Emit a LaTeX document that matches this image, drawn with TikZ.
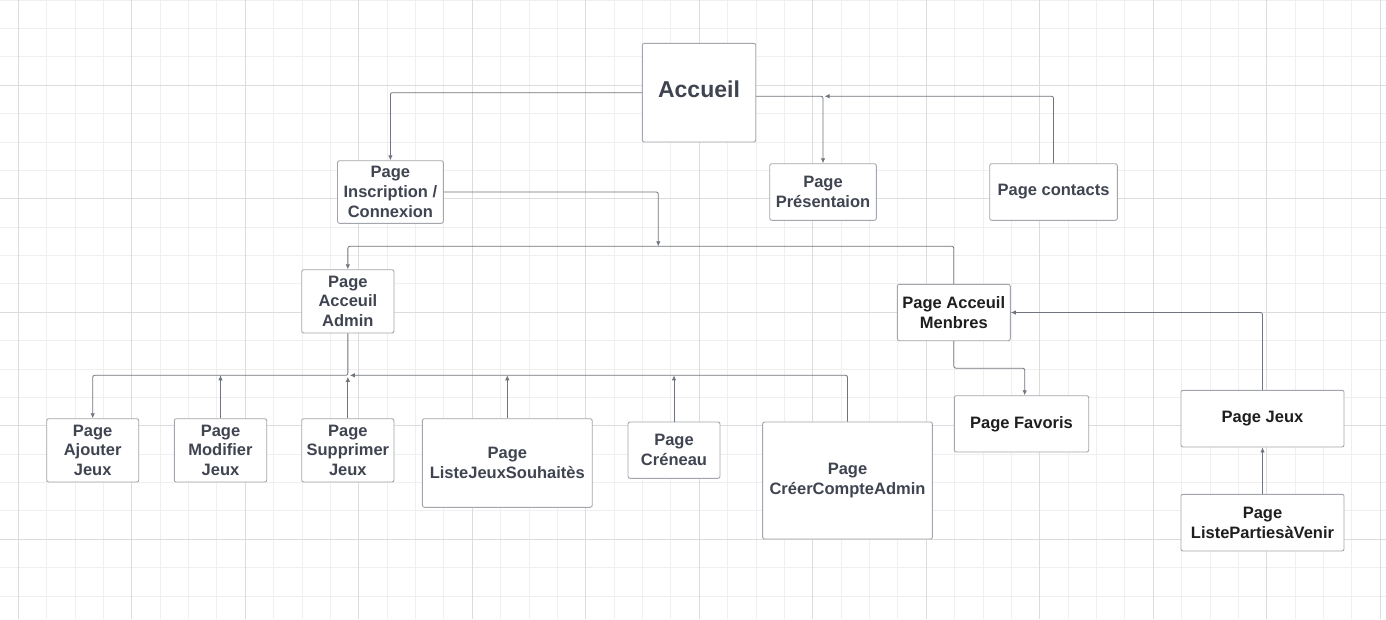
\documentclass[tikz,border=0pt]{standalone}
\usepackage{fontspec}
\setmainfont{Liberation Sans}
\usetikzlibrary{arrows.meta}

\definecolor{gridminor}{HTML}{EFEFEF}
\definecolor{gridmajor}{HTML}{DCDCDC}
\definecolor{boxline}{HTML}{A3A6AC}
\definecolor{wire}{HTML}{70747C}
\definecolor{inkgray}{HTML}{3F4450}
\definecolor{inkdark}{HTML}{1E1E1E}

\begin{document}
\begin{tikzpicture}[x=1pt,y=-1pt,
  page/.style={draw=boxline, line width=0.9pt, rounded corners=2pt, fill=white,
    align=center, text=inkgray, inner sep=0pt,
    font=\bfseries\fontsize{16.5}{19.7}\selectfont},
  dark/.style={text=inkdark},
  link/.style={draw=wire, line width=0.8pt, rounded corners=2pt,
    -{Latex[length=5pt,width=4.5pt]}},
  minorline/.style={draw=gridminor, line width=0.9pt},
  majorline/.style={draw=gridmajor, line width=0.9pt}
]
% canvas and page size
\fill[white] (0,0) rectangle (1386,619);
\useasboundingbox (0,0) rectangle (1386,619);

% background grid
\foreach \i in {0,...,48} \draw[minorline] ({18.3+28.375*\i},0) -- ++(0,619);
\foreach \j in {0,...,21} \draw[minorline] (0,{0.175+28.375*\j}) -- ++(1386,0);
\foreach \i in {0,...,12} \draw[majorline] ({18.3+113.5*\i},0) -- ++(0,619);
\foreach \j in {0,...,4} \draw[majorline] (0,{85.3+113.5*\j}) -- ++(1386,0);

% pages
\node[page, minimum width=113.4pt, minimum height=98.7pt, text depth=6pt,
      font=\bfseries\fontsize{23}{27}\selectfont] (accueil) at (699,92.65) {Accueil};
\node[page, minimum width=105.8pt, minimum height=62.6pt] (inscr) at (390.4,192) {Page\\Inscription /\\Connexion};
\node[page, minimum width=106.6pt, minimum height=56.6pt] (pres) at (823,192) {Page\\Présentaion};
\node[page, minimum width=127.6pt, minimum height=56.6pt] (contacts) at (1053.5,192) {Page contacts};

\node[page, minimum width=92.3pt, minimum height=63.3pt] (admin) at (347.85,301.35) {Page\\Acceuil\\Admin};
\node[page, dark, minimum width=113pt, minimum height=56.4pt] (membres) at (953.8,312.5) {Page Acceuil\\Menbres};

\node[page, minimum width=92pt, minimum height=63.3pt] (ajouter) at (92.7,450.35) {Page\\Ajouter\\Jeux};
\node[page, minimum width=92.4pt, minimum height=63.3pt] (modifier) at (220.5,450.35) {Page\\Modifier\\Jeux};
\node[page, minimum width=92.3pt, minimum height=63.3pt] (supprimer) at (347.85,450.35) {Page\\Supprimer\\Jeux};
\node[page, minimum width=169.8pt, minimum height=88.6pt] (souhaits) at (507.3,463) {Page\\ListeJeuxSouhaitès};
\node[page, minimum width=92pt, minimum height=56.3pt] (creneau) at (674,450.15) {Page\\Créneau};
\node[page, minimum width=169.8pt, minimum height=117pt] (compte) at (847.5,480.5) {Page\\CréerCompteAdmin};

\node[page, dark, minimum width=134.4pt, minimum height=56.3pt] (favoris) at (1021.5,423.85) {Page Favoris};
\node[page, dark, minimum width=163pt, minimum height=56.7pt] (jeux) at (1262.5,418.65) {Page Jeux};
\node[page, dark, minimum width=163pt, minimum height=56.7pt] (parties) at (1262.5,522.65) {Page\\ListePartiesàVenir};

% junction points on the connectors
\coordinate (accR) at ([yshift=-3.6pt]accueil.east);
\coordinate (presTap) at (accR -| pres.north);
\coordinate (busA) at (658.3,246.3);
\coordinate (busB) at (347.85,375.3);

% connectors
\draw[link] (accueil.west) -| (inscr.north);
\draw[link] (accR) -| (pres.north);
\draw[link] (contacts.north) |- ([xshift=1.5pt]presTap);
\draw[link] (inscr.east) -| (busA);
\draw[link] (membres.north) |- (busA) -| (admin.north);

\draw[link] (admin.south) -- (busB) -| (ajouter.north);
\draw[link] (modifier.north) -- (modifier.north |- busB);
\draw[link] (supprimer.north) -- ([yshift=-1.5pt]busB);
\draw[link] (souhaits.north) -- (souhaits.north |- busB);
\draw[link] (creneau.north) -- (creneau.north |- busB);
\draw[link] (compte.north) |- ([xshift=2pt]busB);

\draw[link] (membres.south) -- ++(0,27) -| ([xshift=3.2pt]favoris.north);
\draw[link] (jeux.north) |- (membres.east);
\draw[link] (parties.north) -- (jeux.south);
\end{tikzpicture}
\end{document}
